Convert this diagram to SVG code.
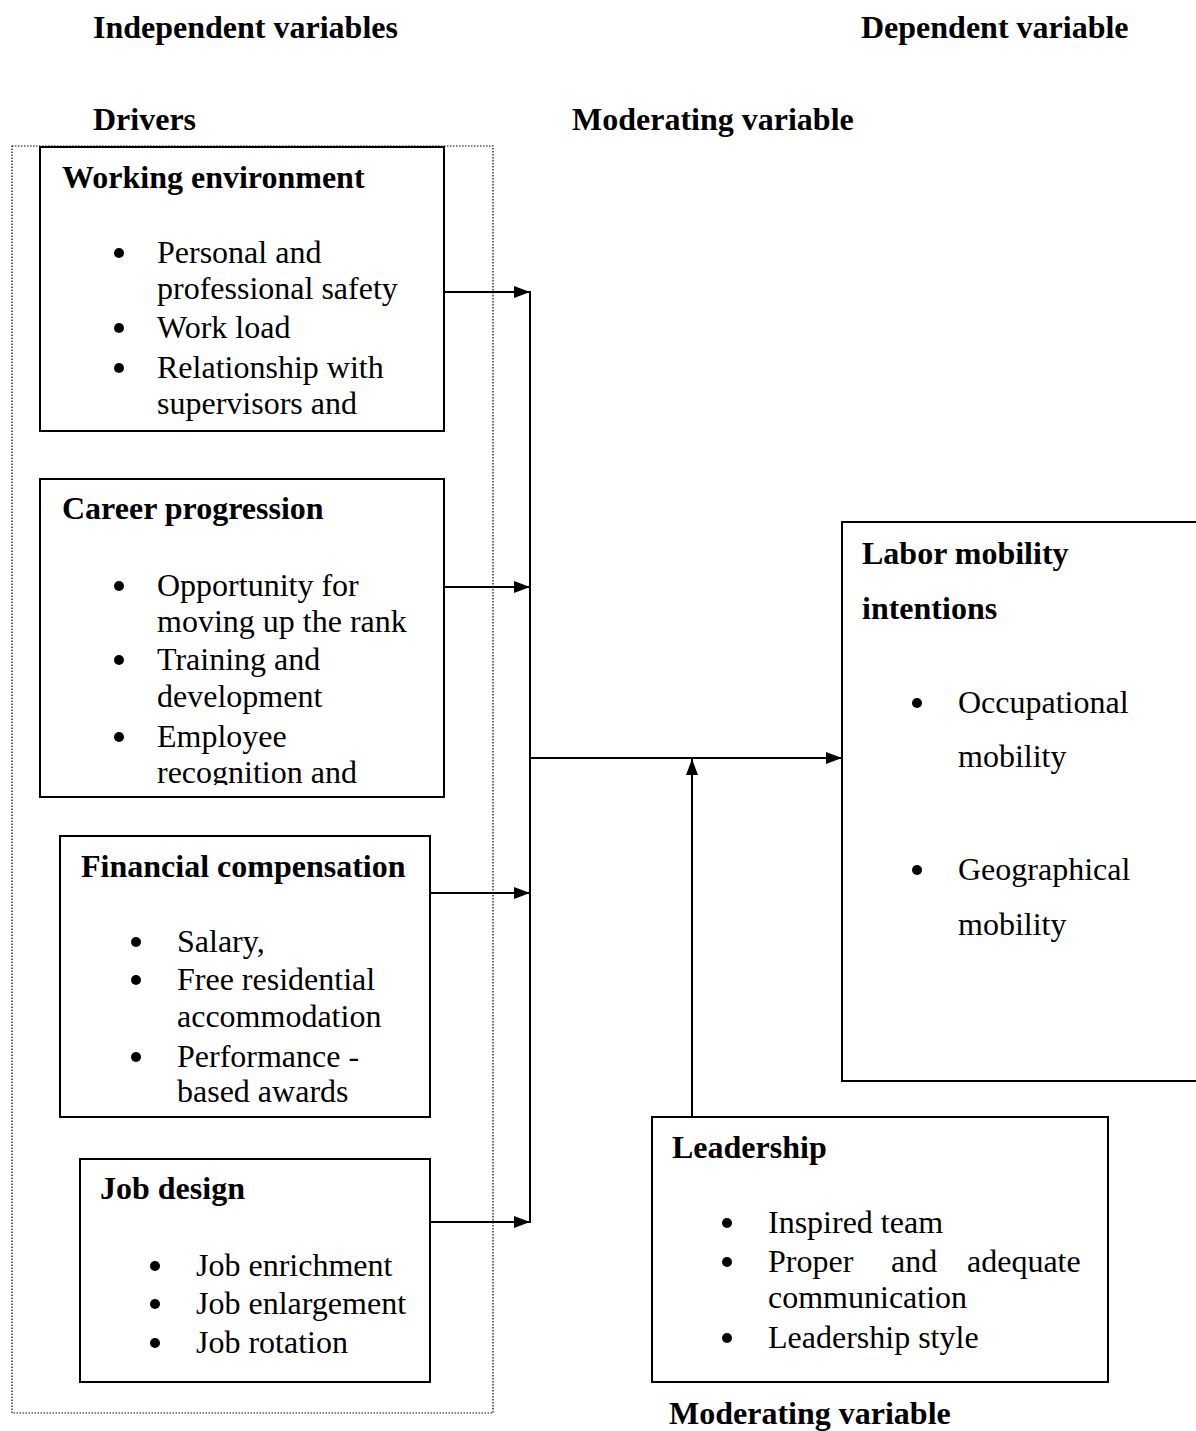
<svg xmlns="http://www.w3.org/2000/svg" width="1196" height="1431" viewBox="0 0 1196 1431">
<style>
text{font-family:"Liberation Serif","Times New Roman",serif;font-size:32px;fill:#000}
.b{font-weight:bold}
.box{fill:#fff;stroke:#000;stroke-width:2}
.frame{fill:none;stroke:#000;stroke-width:1.2;stroke-dasharray:1.5 1.5}
.ln{fill:none;stroke:#000;stroke-width:2}
</style>
<defs>
<marker id="ah" viewBox="0 0 16 12" refX="16" refY="6" markerWidth="16" markerHeight="12" markerUnits="userSpaceOnUse" orient="auto">
<path d="M0,0 L16,6 L0,12 Z" fill="#000"/>
</marker>
<clipPath id="clip2"><rect x="40" y="479" width="404" height="306"/></clipPath>
</defs>
<rect width="1196" height="1431" fill="#fff"/>

<g id="headers">
<text class="b" x="93" y="38">Independent variables</text>
<text class="b" x="861" y="38">Dependent variable</text>
<text class="b" x="93" y="130">Drivers</text>
<text class="b" x="572" y="130">Moderating variable</text>
<text class="b" x="669" y="1424">Moderating variable</text>
</g>

<g id="drivers-frame">
<rect class="frame" x="12" y="146" width="481" height="1267"/>
</g>

<g id="connectors">
<line class="ln" x1="444" y1="292" x2="530" y2="292" marker-end="url(#ah)"/>
<line class="ln" x1="444" y1="587" x2="530" y2="587" marker-end="url(#ah)"/>
<line class="ln" x1="430" y1="893" x2="530" y2="893" marker-end="url(#ah)"/>
<line class="ln" x1="430" y1="1222" x2="530" y2="1222" marker-end="url(#ah)"/>
<line class="ln" x1="530" y1="291" x2="530" y2="1223"/>
<line class="ln" x1="530" y1="758" x2="842" y2="758" marker-end="url(#ah)"/>
<line class="ln" x1="692" y1="1117" x2="692" y2="759" marker-end="url(#ah)"/>
</g>

<g id="working-environment">
<rect class="box" x="40" y="147" width="404" height="284"/>
<text class="b" x="62" y="188">Working environment</text>
<circle cx="119" cy="253" r="5"/>
<text x="157" y="263">Personal and</text>
<text x="157" y="299">professional safety</text>
<circle cx="119" cy="328" r="5"/>
<text x="157" y="338">Work load</text>
<circle cx="119" cy="368" r="5"/>
<text x="157" y="378">Relationship with</text>
<text x="157" y="414">supervisors and</text>
</g>

<g id="career-progression">
<rect class="box" x="40" y="479" width="404" height="318"/>
<text class="b" x="62" y="519">Career progression</text>
<g clip-path="url(#clip2)">
<circle cx="119" cy="586" r="5"/>
<text x="157" y="596">Opportunity for</text>
<text x="157" y="632">moving up the rank</text>
<circle cx="119" cy="660" r="5"/>
<text x="157" y="670">Training and</text>
<text x="157" y="707">development</text>
<circle cx="119" cy="737" r="5"/>
<text x="157" y="747">Employee</text>
<text x="157" y="783">recognition and</text>
</g>
</g>

<g id="financial-compensation">
<rect class="box" x="60" y="836" width="370" height="281"/>
<text class="b" x="81" y="877">Financial compensation</text>
<circle cx="136" cy="942" r="5"/>
<text x="177" y="952">Salary,</text>
<circle cx="136" cy="980" r="5"/>
<text x="177" y="990">Free residential</text>
<text x="177" y="1027">accommodation</text>
<circle cx="136" cy="1057" r="5"/>
<text x="177" y="1067">Performance -</text>
<text x="177" y="1102">based awards</text>
</g>

<g id="job-design">
<rect class="box" x="80" y="1159" width="350" height="223"/>
<text class="b" x="100" y="1199">Job design</text>
<circle cx="155" cy="1266" r="5"/>
<text x="196" y="1276">Job enrichment</text>
<circle cx="155" cy="1304" r="5"/>
<text x="196" y="1314">Job enlargement</text>
<circle cx="155" cy="1343" r="5"/>
<text x="196" y="1353">Job rotation</text>
</g>

<g id="labor-mobility">
<rect class="box" x="842" y="522" width="370" height="559"/>
<text class="b" x="862" y="564">Labor mobility</text>
<text class="b" x="862" y="619">intentions</text>
<circle cx="917" cy="703" r="5"/>
<text x="958" y="713">Occupational</text>
<text x="958" y="767">mobility</text>
<circle cx="917" cy="870" r="5"/>
<text x="958" y="880">Geographical</text>
<text x="958" y="935">mobility</text>
</g>

<g id="leadership">
<rect class="box" x="652" y="1117" width="456" height="265"/>
<text class="b" x="672" y="1158">Leadership</text>
<circle cx="727" cy="1223" r="5"/>
<text x="768" y="1233">Inspired team</text>
<circle cx="727" cy="1262" r="5"/>
<text y="1272"><tspan x="768">Proper</tspan><tspan x="891">and</tspan><tspan x="967">adequate</tspan></text>
<text x="768" y="1308">communication</text>
<circle cx="727" cy="1338" r="5"/>
<text x="768" y="1348">Leadership style</text>
</g>
</svg>
